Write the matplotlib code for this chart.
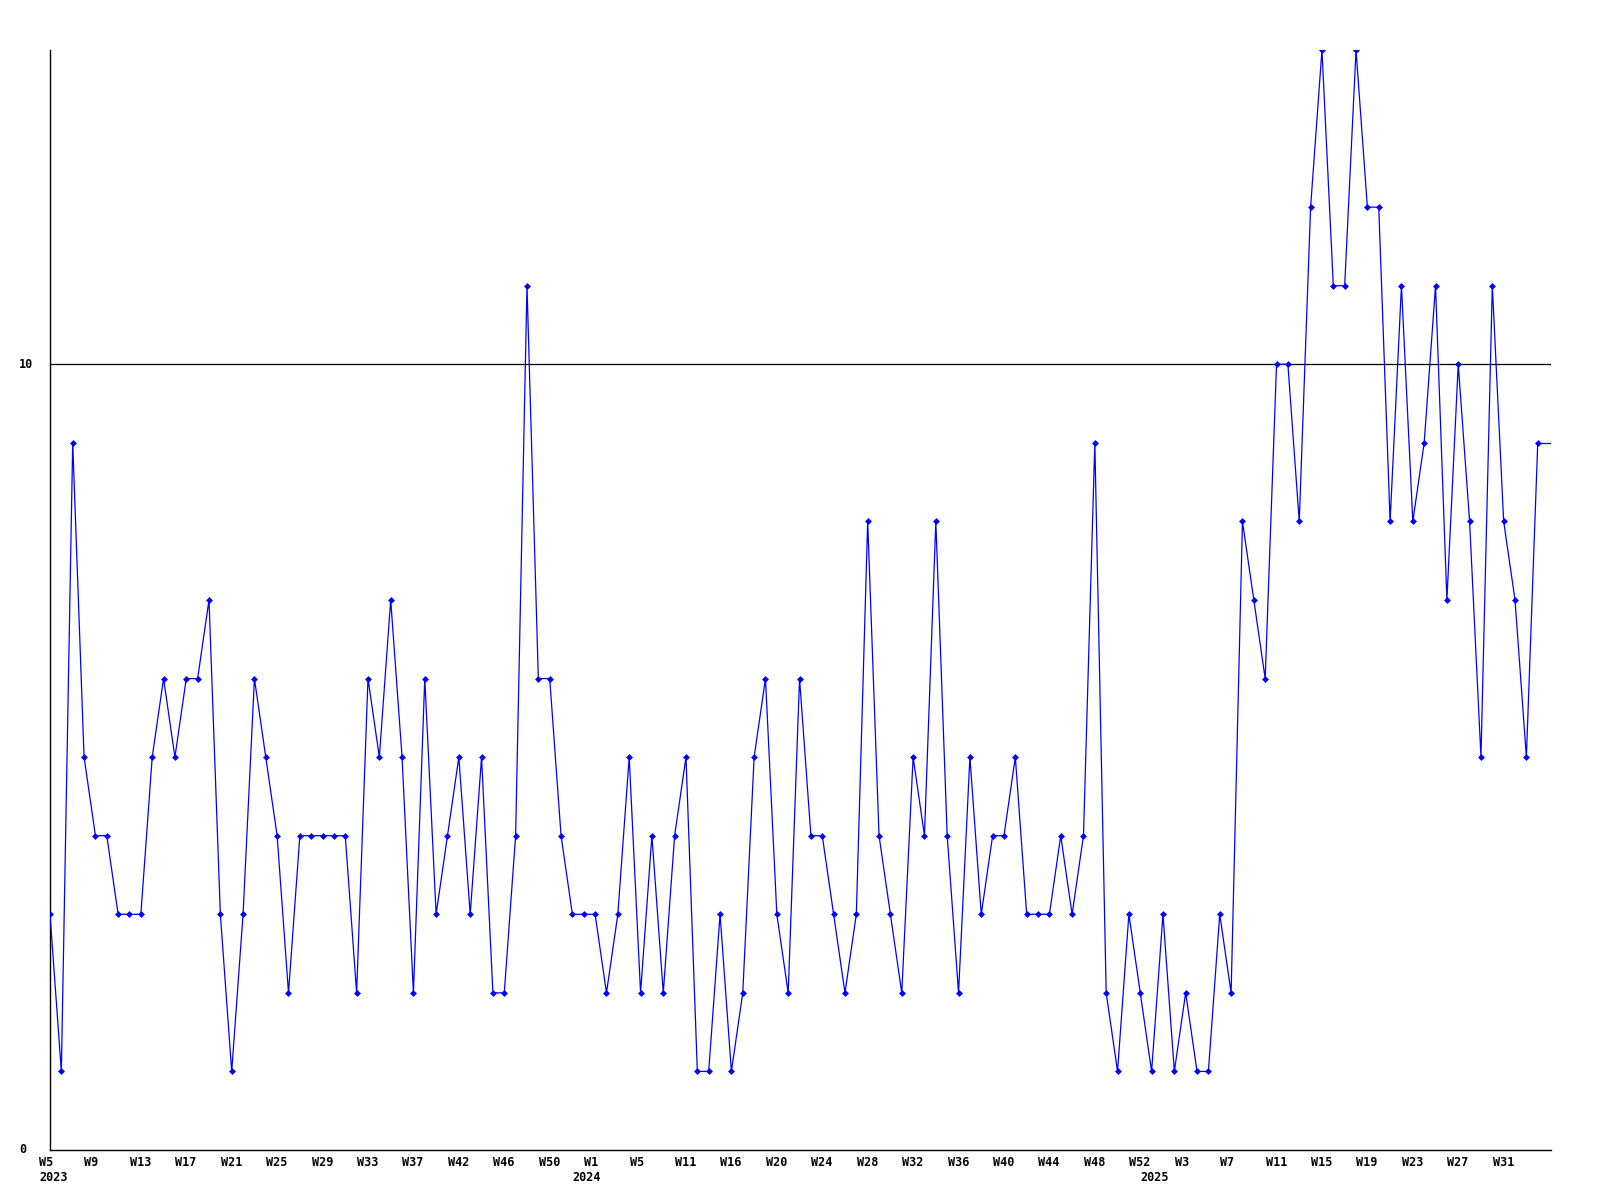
import matplotlib
matplotlib.use("Agg")
import matplotlib.pyplot as plt

# weekly values, one per point
values = [3, 1, 9, 5, 4, 4, 3, 3, 3, 5, 6, 5, 6, 6, 7, 3, 1, 3, 6, 5,
          4, 2, 4, 4, 4, 4, 4, 2, 6, 5, 7, 5, 2, 6, 3, 4, 5, 3, 5, 2,
          2, 4, 11, 6, 6, 4, 3, 3, 3, 2, 3, 5, 2, 4, 2, 4, 5, 1, 1, 3,
          1, 2, 5, 6, 3, 2, 6, 4, 4, 3, 2, 3, 8, 4, 3, 2, 5, 4, 8, 4,
          2, 5, 3, 4, 4, 5, 3, 3, 3, 4, 3, 4, 9, 2, 1, 3, 2, 1, 3, 1,
          2, 1, 1, 3, 2, 8, 7, 6, 10, 10, 8, 12, 14, 11, 11, 14, 12, 12, 8, 11,
          8, 9, 11, 7, 10, 8, 5, 11, 8, 7, 5, 9]

# a label on every 4th point
week_labels = ["W5", "W9", "W13", "W17", "W21", "W25", "W29", "W33", "W37", "W42",
               "W46", "W50", "W1", "W5", "W11", "W16", "W20", "W24", "W28", "W32",
               "W36", "W40", "W44", "W48", "W52", "W3", "W7", "W11", "W15", "W19",
               "W23", "W27", "W31"]
label_step = 4

year_labels = ["2023", "2024", "2025"]
year_starts = [0, 47, 97]

ref_level = 10
y_max = 14

font = dict(family="DejaVu Sans Mono", weight="bold", size=8.5)

fig = plt.figure(figsize=(16, 12), dpi=100)
ax = fig.add_axes([0.03125, 0.04167, 0.938, 0.91666])

x = list(range(len(values)))
ax.plot(x, values, color="#0000ff", lw=0.9, marker="D", ms=3, mew=0.5, zorder=3)

x_end = len(values) - 1 + 1.15
ax.plot([x[-1], x_end], [values[-1], values[-1]], color="#0000ff", lw=0.9, zorder=3)

ax.axhline(ref_level, color="black", lw=0.9, zorder=2)

ax.set_xlim(0, x_end)
ax.set_ylim(0, y_max)
ax.set_xticks([])
ax.set_yticks([])
for side in ["top", "right"]:
    ax.spines[side].set_visible(False)
for side in ["left", "bottom"]:
    ax.spines[side].set_linewidth(1.0)
    ax.spines[side].set_color("black")

for i, lab in enumerate(week_labels):
    ax.annotate(lab, xy=(i * label_step, 0), xycoords=("data", "axes fraction"),
                xytext=(-11, -6), textcoords="offset pixels",
                ha="left", va="top", **font)

for idx, lab in zip(year_starts, year_labels):
    ax.annotate(lab, xy=(idx, 0), xycoords=("data", "axes fraction"),
                xytext=(-11, -21), textcoords="offset pixels",
                ha="left", va="top", **font)

for v in [0, ref_level]:
    ax.annotate(str(v), xy=(19 / 1600, v), xycoords=("figure fraction", "data"),
                ha="left", va="center", **font)

fig.savefig("out.png", dpi=100)
